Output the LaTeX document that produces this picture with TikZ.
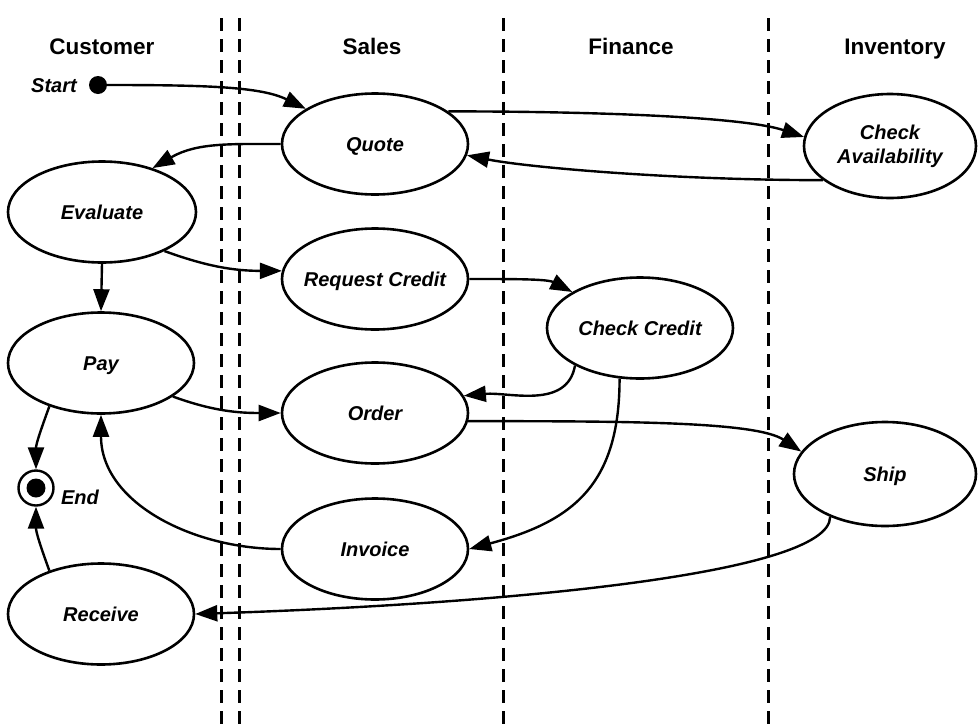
\documentclass[tikz,border=0pt]{standalone}
\usepackage{fontspec}
\setmainfont{Liberation Sans}
\usepackage{tikz}
\usetikzlibrary{shapes.geometric, arrows.meta, positioning}
\tikzstyle{arrow} = [line width=2.4pt,-{Triangle[length=22pt,width=16pt]}]
\tikzstyle{activity} = [ellipse, draw, line width=2.6pt, minimum width=186pt, minimum height=101pt, inner xsep=-10pt, font=\fontsize{20pt}{24pt}\selectfont\bfseries\itshape, text height=14pt, text depth=0pt]
\tikzstyle{lane} = [line width=3pt, dash pattern=on 13pt off 8pt]
\tikzstyle{header} = [anchor=base, font=\fontsize{22.5pt}{26pt}\selectfont\bfseries]
\tikzstyle{tag} = [anchor=base, font=\fontsize{20pt}{24pt}\selectfont\bfseries\itshape]

\begin{document}
\begin{tikzpicture}[x=1pt,y=1pt]
	\useasboundingbox (0,0) rectangle (978,-726);
	% swimlane borders
	\draw [lane] (221,-18) -- (221,-726);
	\draw [lane] (239,-18) -- (239,-726);
	\draw [lane] (503,-18) -- (503,-726);
	\draw [lane] (768,-18) -- (768,-726);
	\node [header] (customer) at (102,-54) {Customer};
	\node [header] (sales) at (372,-54) {Sales};
	\node [header] (finance) at (631,-54) {Finance};
	\node [header] (inventory) at (895,-54) {Inventory};
	% activities
	\node [activity] (quote) at (375,-144) {Quote};
	\node [activity, minimum width=172pt, minimum height=104pt, align=center, text height=, text depth=] (avail) at (890,-146) {Check\\Availability};
	\node [activity, minimum width=188pt] (evaluate) at (102,-212) {Evaluate};
	\node [activity] (request) at (375,-279) {Request Credit};
	\node [activity] (ccredit) at (640,-328) {Check Credit};
	\node [activity] (pay) at (101,-363) {Pay};
	\node [activity] (order) at (375,-413) {Order};
	\node [activity, minimum width=182pt, minimum height=104pt] (ship) at (885,-474) {Ship};
	\node [activity] (invoice) at (375,-549) {Invoice};
	\node [activity] (receive) at (101,-614) {Receive};
	% start and end
	\node [circle, fill, minimum size=18pt, inner sep=0pt] (start) at (98,-85) {};
	\node [tag] (startlabel) at (54,-92) {Start};
	\node [circle, draw, line width=2.4pt, minimum size=35pt, inner sep=0pt] (end) at (36,-488) {};
	\fill (end.center) circle (9.5pt);
	\node [tag] (endlabel) at (80,-504) {End};
	% flows
	\draw [arrow] (start.east) .. controls +(100,0) and +(-45,22) .. (quote.153);
	\draw [arrow] (quote.west) to[out=180,in=30] (evaluate.41);
	\draw [arrow] (quote.24) .. controls +(150,0) and +(-60,20) .. (avail.174);
	\draw [arrow] (avail.207) .. controls +(-150,0) and +(60,-12) .. (quote.353);
	\draw [arrow] (evaluate.328) to[out=-20,in=180] (request.175);
	\draw [arrow] (evaluate.south) -- (pay.north);
	\draw [arrow] (request.east) .. controls +(45,0) and +(-25,13) .. (ccredit.152);
	\draw [arrow] (ccredit.210) to[out=-100,in=5] (order.11);
	\draw [arrow] (pay.335) to[out=-20,in=180] (order.west);
	\draw [arrow] (ccredit.248) to[out=-90,in=15,looseness=1.2] (invoice.east);
	\draw [arrow] (invoice.west) to[out=180,in=-90] (pay.south);
	\draw [arrow] (order.355) .. controls +(160,0) and +(-45,30) .. (ship.165);
	\draw [arrow] (ship.218) .. controls +(0,-58) and +(303,10) .. (receive.east);
	\draw [arrow] (pay.220) to[out=250,in=90] (end.north);
	\draw [arrow] (receive.140) to[out=110,in=-90] (end.south);
\end{tikzpicture}
\end{document}
